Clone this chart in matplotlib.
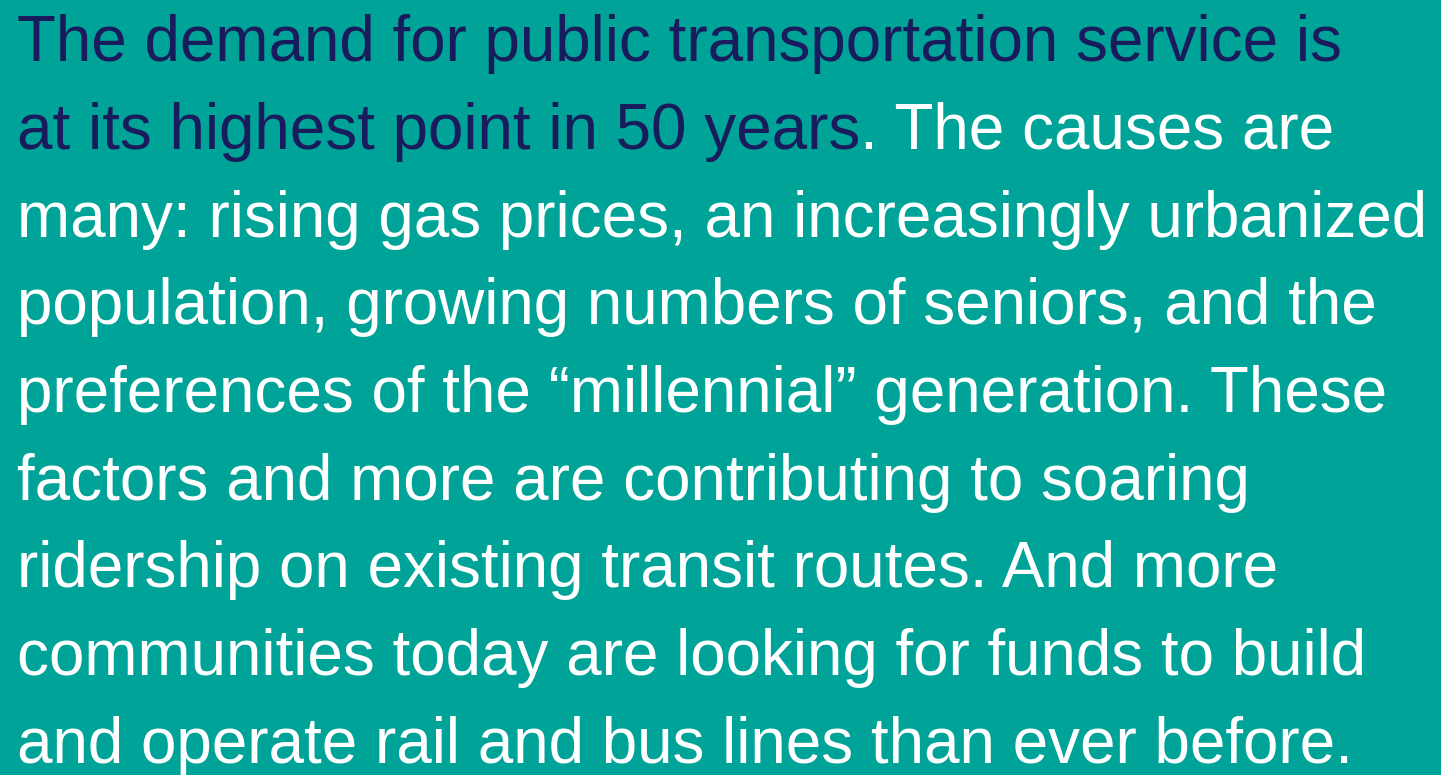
# Text panel: transit demand paragraph on teal background

import matplotlib.pyplot as plt

# Paragraph lines; the first part of line 2 is highlighted in navy
lines = [
    "The demand for public transportation service is",
    "at its highest point in 50 years",
    "many: rising gas prices, an increasingly urbanized",
    "population, growing numbers of seniors, and the",
    "preferences of the \u201cmillennial\u201d generation. These",
    "factors and more are contributing to soaring",
    "ridership on existing transit routes. And more",
    "communities today are looking for funds to build",
    "and operate rail and bus lines than ever before.",
]
line2_tail = ". The causes are"
navy_lines = [0, 1]

bg = "#00A398"
navy = "#191C5C"
white = "#FFFFFF"

fig = plt.figure(figsize=(14.41, 7.75), dpi=100, facecolor=bg)
ax = fig.add_axes([0, 0, 1, 1])
ax.set_facecolor(bg)
ax.set_xlim(0, 1441)
ax.set_ylim(775, 0)
ax.axis("off")

font = dict(family="Liberation Sans", fontsize=45.9)
x0 = 17
y0 = 61
dy = 87.75

for i, line in enumerate(lines):
    color = navy if i in navy_lines else white
    t = ax.text(x0, y0 + i * dy, line, color=color, va="baseline", ha="left", **font)
    if i == 1:
        ax.annotate(
            line2_tail,
            xy=(1, 0),
            xycoords=t,
            va="bottom",
            ha="left",
            color=white,
            **font,
        )

fig.savefig("out.png", dpi=100, facecolor=bg)
